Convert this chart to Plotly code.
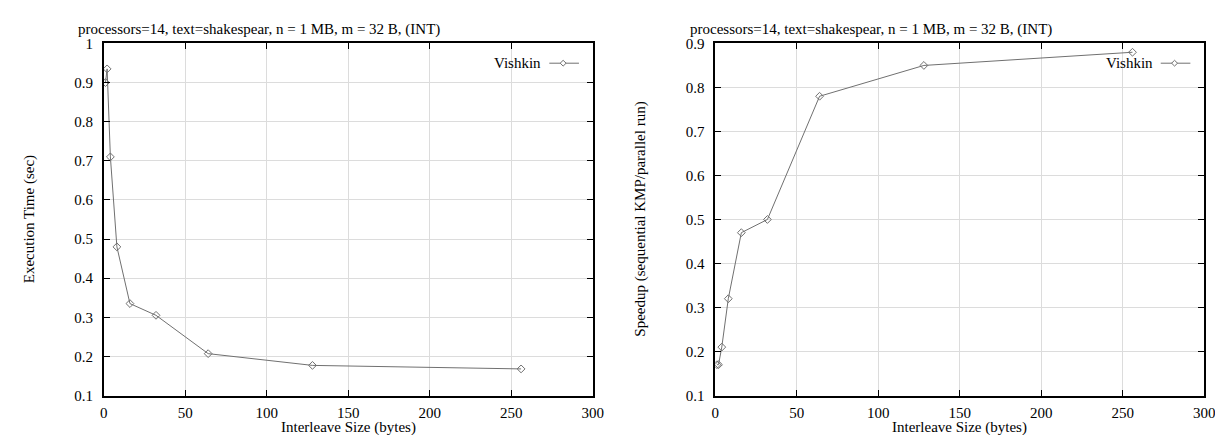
import plotly.graph_objects as go

# ---- data ----
interleave = [1, 2, 4, 8, 16, 32, 64, 128, 256]
exec_time = [0.90, 0.935, 0.71, 0.48, 0.335, 0.305, 0.207, 0.177, 0.168]
speedup = [0.17, 0.17, 0.21, 0.32, 0.47, 0.50, 0.78, 0.85, 0.88]
series_name = "Vishkin"
title_text = "processors=14, text=shakespear, n = 1 MB, m = 32 B, (INT)"
x_title = "Interleave Size (bytes)"
y_title_left = "Execution Time (sec)"
y_title_right = "Speedup (sequential KMP/parallel run)"

W, H = 1223, 435
FONT = "Liberation Serif"
FS = 15
LINE_COLOR = "#707070"

def px(x):
    return x / W

def py(y):
    return 1 - y / H

L1, R1 = 93, 588
L2, R2 = 712, 1207
TOP, BOT = 28.5, 394

fig = go.Figure()
marker_style = dict(symbol="diamond-open", size=6, color=LINE_COLOR, line=dict(width=1))
fig.add_trace(go.Scatter(x=interleave, y=exec_time, mode="lines+markers", name=series_name,
                         line=dict(color=LINE_COLOR, width=1), marker=marker_style,
                         xaxis="x", yaxis="y", showlegend=False))
fig.add_trace(go.Scatter(x=interleave, y=speedup, mode="lines+markers", name=series_name,
                         line=dict(color=LINE_COLOR, width=1), marker=marker_style,
                         xaxis="x2", yaxis="y2", showlegend=False))

axis_common = dict(showline=True, linecolor="black", linewidth=1.5, mirror="allticks",
                   ticks="inside", ticklen=6, tickcolor="black", tickwidth=1,
                   showgrid=True, gridcolor="#dcdcdc", gridwidth=1, zeroline=False,
                   tickfont=dict(family=FONT, size=FS, color="black"))

fig.update_layout(
    width=W, height=H, margin=dict(l=0, r=0, t=0, b=0),
    paper_bgcolor="white", plot_bgcolor="white",
    font=dict(family=FONT, size=FS, color="black"),
    xaxis=dict(domain=[px(L1), px(R1)], range=[0, 300], dtick=50, tick0=0, anchor="y",
               ticklabelstandoff=3, **axis_common),
    yaxis=dict(domain=[py(BOT), py(TOP)], range=[0.1, 1.0], dtick=0.1, tick0=0.1, anchor="x",
               ticklabelstandoff=6, **axis_common),
    xaxis2=dict(domain=[px(L2), px(R2)], range=[0, 300], dtick=50, tick0=0, anchor="y2",
                ticklabelstandoff=3, **axis_common),
    yaxis2=dict(domain=[py(BOT), py(TOP)], range=[0.1, 0.9], dtick=0.1, tick0=0.1, anchor="x2",
                ticklabelstandoff=6, **axis_common),
)

annotations = []
shapes = []
for (L, R, ytitle, ytx) in [(L1, R1, y_title_left, 18), (L2, R2, y_title_right, 636)]:
    annotations.append(dict(text=title_text, x=px(L - 28), y=py(14), xref="paper", yref="paper",
                            xanchor="left", yanchor="middle", showarrow=False,
                            font=dict(family=FONT, size=FS)))
    annotations.append(dict(text=x_title, x=px((L + R) / 2), y=py(427), xref="paper", yref="paper",
                            xanchor="center", yanchor="middle", showarrow=False,
                            font=dict(family=FONT, size=FS)))
    annotations.append(dict(text=ytitle, x=px(ytx), y=py((TOP + BOT) / 2), xref="paper", yref="paper",
                            xanchor="center", yanchor="middle", showarrow=False, textangle=-90,
                            font=dict(family=FONT, size=FS)))
    # legend (gnuplot style: text then sample)
    ly = 49
    annotations.append(dict(text=series_name, x=px(R - 50), y=py(ly), xref="paper", yref="paper",
                            xanchor="right", yanchor="middle", showarrow=False,
                            font=dict(family=FONT, size=FS)))
    shapes.append(dict(type="line", xref="paper", yref="paper", x0=px(R - 44), x1=px(R - 14),
                       y0=py(ly), y1=py(ly), line=dict(color=LINE_COLOR, width=1)))
    cx = R - 30
    d = 3
    shapes.append(dict(type="path", xref="paper", yref="paper",
                       path=f"M {px(cx - d)} {py(ly)} L {px(cx)} {py(ly - d)} L {px(cx + d)} {py(ly)} L {px(cx)} {py(ly + d)} Z",
                       fillcolor="white", line=dict(color=LINE_COLOR, width=1)))

fig.update_layout(annotations=annotations, shapes=shapes)
fig.write_html("out.html")
